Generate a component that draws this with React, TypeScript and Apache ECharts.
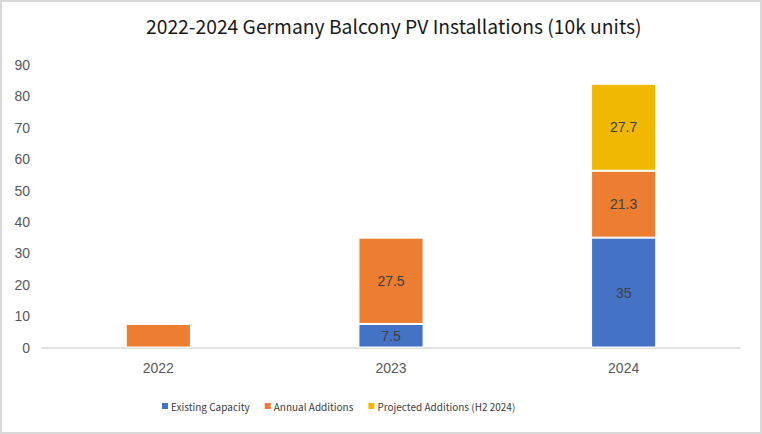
import React, { useEffect, useRef } from "react";
import * as echarts from "echarts";

const categories = ["2022", "2023", "2024"];
const existingCapacity = [0, 7.5, 35];
const annualAdditions = [7.5, 27.5, 21.3];
const projectedAdditions = [0, 0, 27.7];
const yTicks = [0, 10, 20, 30, 40, 50, 60, 70, 80, 90];

const labelFont = "Liberation Sans, Arial, sans-serif";
const uiFont = "'Noto Sans CJK SC', 'Noto Sans', sans-serif";

export default function App() {
  const ref = useRef<HTMLDivElement>(null);
  useEffect(() => {
    document.body.style.margin = "0";
    const chart = echarts.init(ref.current!, null, { renderer: "svg" });
    const mk = (name: string, data: number[], color: string, hideIdx: number[]) => ({
      name,
      type: "bar",
      stack: "total",
      barWidth: "28%",
      data: data.map((v, i) => ({
        value: v === 0 ? null : v,
        label: { show: !hideIdx.includes(i) && v !== 0 },
      })),
      itemStyle: { color, borderColor: "#ffffff", borderWidth: 1 },
      label: {
        show: true,
        position: "inside",
        color: "#404040",
        fontSize: 14,
        fontFamily: labelFont,
      },
    });
    chart.setOption({
      animation: false,
      backgroundColor: "#ffffff",
      title: {
        text: "2022-2024 Germany Balcony PV Installations (10k units)",
        left: 141,
        top: 11,
        textStyle: { fontSize: 19.3, fontWeight: "normal", color: "#1a1a1a", fontFamily: uiFont },
      },
      grid: { left: 42, right: 22, top: 65, bottom: 86.5 },
      legend: {
        left: 155,
        top: 396,
        itemWidth: 8,
        itemHeight: 8,
        itemGap: 13,
        icon: "rect",
        textStyle: { fontSize: 10, color: "#404040", fontFamily: uiFont, padding: [0, 0, 0, -3] },
        data: ["Existing Capacity", "Annual Additions", "Projected Additions (H2 2024)"],
      },
      xAxis: {
        type: "category",
        data: categories,
        axisLine: { lineStyle: { color: "#d9d9d9", width: 1.5 } },
        axisTick: { show: false },
        axisLabel: { color: "#595959", fontSize: 14, fontFamily: labelFont, margin: 13 },
      },
      yAxis: {
        type: "value",
        min: yTicks[0],
        max: yTicks[yTicks.length - 1],
        interval: 10,
        splitLine: { show: false },
        axisLine: { show: false },
        axisLabel: { color: "#595959", fontSize: 14, fontFamily: labelFont, margin: 12 },
      },
      series: [
        mk("Existing Capacity", existingCapacity, "#4472c4", []),
        mk("Annual Additions", annualAdditions, "#ed7d31", [0]),
        mk("Projected Additions (H2 2024)", projectedAdditions, "#f0b800", []),
      ],
    });
    return () => chart.dispose();
  }, []);
  return (
    <div style={{ width: 762, height: 434, position: "relative" }}>
      <div ref={ref} style={{ position: "absolute", left: 0, top: 0, width: 762, height: 434 }} />
      <div
        style={{
          position: "absolute",
          left: 0,
          top: 0,
          width: 762,
          height: 434,
          boxSizing: "border-box",
          border: "2px solid #d9d9d9",
          pointerEvents: "none",
        }}
      />
    </div>
  );
}
